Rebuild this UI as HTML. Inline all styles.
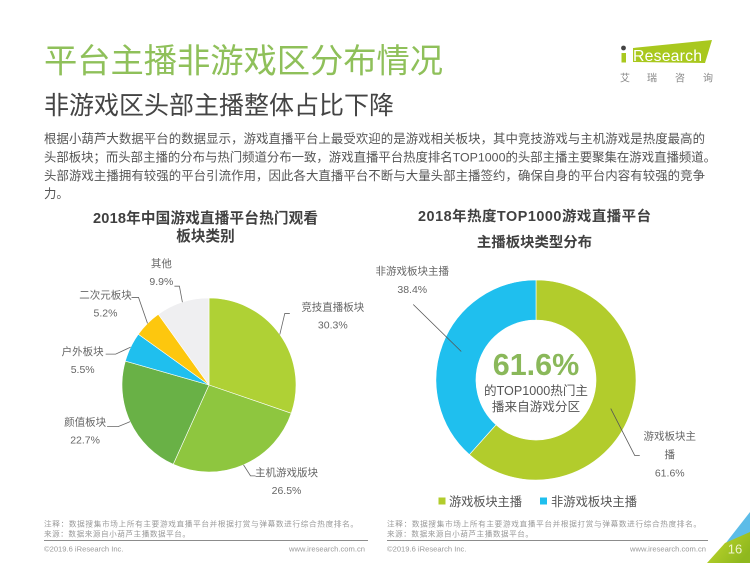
<!DOCTYPE html>
<html lang="zh">
<head>
<meta charset="utf-8">
<title>平台主播非游戏区分布情况</title>
<style>
html,body{margin:0;padding:0;background:#fff;width:750px;height:563px;overflow:hidden}
svg{display:block;font-family:"Liberation Sans","Noto Sans CJK SC",sans-serif}
.lbl{font-size:10.5px;fill:#666;text-anchor:middle;dominant-baseline:central}
.c{dominant-baseline:central}
.note{font-size:7.6px;fill:#999;dominant-baseline:central}
.foot{font-size:7.6px;fill:#999;dominant-baseline:central}
</style>
</head>
<body>
<svg id="page" width="750" height="563" viewBox="0 0 750 563" xmlns="http://www.w3.org/2000/svg">
  <defs>
    <linearGradient id="cornerGreen" x1="0" y1="0" x2="1" y2="0.6">
      <stop offset="0" stop-color="#c4d92e"/>
      <stop offset="1" stop-color="#8fb81e"/>
    </linearGradient>
  </defs>
  <text class="c" x="44" y="62" font-size="33.3" fill="#8fc05a" textLength="399">平台主播非游戏区分布情况</text>
  <text class="c" x="44" y="106" font-size="25" fill="#444" textLength="350">非游戏区头部主播整体占比下降</text>

  <g>
    <polygon points="633,48 712,40 705,63 633,62" fill="#a9c81e"/>
    <circle cx="623.5" cy="48" r="2.4" fill="#444"/>
    <rect x="621.5" y="53" width="4.5" height="9.5" fill="#a9c81e"/>
    <text class="c" x="633" y="56.5" font-size="15.8" fill="#fff" textLength="69">Research</text>
    <text class="c" x="620 647 675 703" y="79" font-size="10" fill="#888">艾瑞咨询</text>
  </g>

  <g font-size="12.4" fill="#555">
    <text class="c" x="44" y="139" textLength="661">根据小葫芦大数据平台的数据显示，游戏直播平台上最受欢迎的是游戏相关板块，其中竞技游戏与主机游戏是热度最高的</text>
    <text class="c" x="44" y="157.5" textLength="672">头部板块；而头部主播的分布与热门频道分布一致，游戏直播平台热度排名TOP1000的头部主播主要聚集在游戏直播频道。</text>
    <text class="c" x="44" y="176" textLength="661">头部游戏主播拥有较强的平台引流作用，因此各大直播平台不断与大量头部主播签约，确保自身的平台内容有较强的竞争</text>
    <text class="c" x="44" y="194">力。</text>
  </g>

  <g font-size="14.6" font-weight="700" fill="#404040" text-anchor="middle">
    <text class="c" x="205.5" y="219" textLength="225">2018年中国游戏直播平台热门观看</text>
    <text class="c" x="205.5" y="237">板块类别</text>
  </g>
  <g id="pie"></g>

  <g font-size="14.4" font-weight="700" fill="#404040" text-anchor="middle">
    <text class="c" x="534.5" y="217" textLength="233">2018年热度TOP1000游戏直播平台</text>
    <text class="c" x="534.5" y="243">主播板块类型分布</text>
  </g>
  <g id="donut"></g>
  <g id="donut-center" text-anchor="middle"></g>

  <g font-size="12.3" fill="#555">
    <rect x="438.5" y="497.5" width="7" height="7" fill="#b2cc2c"/>
    <text class="c" x="449" y="502" textLength="73">游戏板块主播</text>
    <rect x="540" y="497.5" width="7" height="7" fill="#1fbfee"/>
    <text class="c" x="551" y="502" textLength="86">非游戏板块主播</text>
  </g>

  <g>
    <text class="note" x="44" y="524" textLength="314">注释：数据搜集市场上所有主要游戏直播平台并根据打赏与弹幕数进行综合热度排名。</text>
    <text class="note" x="44" y="534" textLength="146">来源：数据来源自小葫芦主播数据平台。</text>
    <line x1="44" y1="540.5" x2="368" y2="540.5" stroke="#666" stroke-width="0.8"/>
    <text class="foot" x="44" y="549">©2019.6 iResearch Inc.</text>
    <text class="foot" x="365" y="549" text-anchor="end">www.iresearch.com.cn</text>
  </g>
  <g>
    <text class="note" x="387" y="524" textLength="314">注释：数据搜集市场上所有主要游戏直播平台并根据打赏与弹幕数进行综合热度排名。</text>
    <text class="note" x="387" y="534" textLength="146">来源：数据来源自小葫芦主播数据平台。</text>
    <line x1="387" y1="540.5" x2="708" y2="540.5" stroke="#666" stroke-width="0.8"/>
    <text class="foot" x="387" y="549">©2019.6 iResearch Inc.</text>
    <text class="foot" x="706" y="549" text-anchor="end">www.iresearch.com.cn</text>
  </g>

  <g>
    <polygon points="750,512 750,533 725,544" fill="#5cbce8"/>
    <polygon points="725,543 750,532 750,563 707,563" fill="url(#cornerGreen)"/>
    <text class="c" x="735" y="549" font-size="13" fill="#eef4cc" text-anchor="middle">16</text>
  </g>
</svg>
<script>
// Pie chart data
const pieCategories = ['竞技直播板块', '主机游戏版块', '颜值板块', '户外板块', '二次元板块', '其他'];
const pieValues = [30.3, 26.5, 22.7, 5.5, 5.2, 9.9];
// Donut chart data
const donutCategories = ['游戏板块主播', '非游戏板块主播'];
const donutValues = [61.6, 38.4];
const donutHeadline = ['的TOP1000热门主', '播来自游戏分区'];

const NS = 'http://www.w3.org/2000/svg';
const pieColors = ['#afd135', '#8ec63f', '#69b146', '#1fbfee', '#fdc70e', '#efeff1'];
const donutColors = ['#b2cc2c', '#1fbfee'];
const pieKeys = ['esports', 'console', 'beauty', 'outdoor', 'anime', 'other'];
const donutKeys = ['game', 'non-game'];
// Leader-line and label offsets relative to the slice anchor: elbow dx,dy, end dx, label dx,dy
const pieLeader = [
  {ex:5,ey:-21,tx:5,lx:53,ly:-27},
  {ex:7,ey:11,tx:5,lx:43,ly:8},
  {ex:-12,ey:5,tx:-11,lx:-45,ly:1},
  {ex:-15,ey:7,tx:-10,lx:-48,ly:5},
  {ex:-9,ey:-26,tx:-7,lx:-42,ly:-28},
  {ex:-3,ey:-16,tx:-5,lx:-21,ly:-38}
];
const donutLeader = [
  {ex:24,ey:47,tx:5,lx:59,ly:28},
  {ex:-48,ey:-47,tx:0,lx:-49,ly:-80}
];

function el(tag, attrs, parent, text) {
  const n = document.createElementNS(NS, tag);
  for (const k in attrs) n.setAttribute(k, attrs[k]);
  if (text !== undefined) n.textContent = text;
  parent.appendChild(n);
  return n;
}
function angleScale(values) {
  const total = values.reduce((a, b) => a + b, 0);
  return v => v / total * Math.PI * 2;
}
function polar(cx, cy, r, a) {
  return [cx + r * Math.sin(a), cy - r * Math.cos(a)];
}
function sector(cx, cy, r0, r1, a0, a1) {
  const large = a1 - a0 > Math.PI ? 1 : 0;
  const [x0, y0] = polar(cx, cy, r1, a0);
  const [x1, y1] = polar(cx, cy, r1, a1);
  if (r0 === 0) return `M${cx} ${cy}L${x0} ${y0}A${r1} ${r1} 0 ${large} 1 ${x1} ${y1}Z`;
  const [x2, y2] = polar(cx, cy, r0, a1);
  const [x3, y3] = polar(cx, cy, r0, a0);
  return `M${x0} ${y0}A${r1} ${r1} 0 ${large} 1 ${x1} ${y1}L${x2} ${y2}A${r0} ${r0} 0 ${large} 0 ${x3} ${y3}Z`;
}

// Pie
(function () {
  const g = document.getElementById('pie');
  const cx = 209, cy = 385, r = 87;
  const scale = angleScale(pieValues);
  let a = 0;
  pieValues.forEach((v, i) => {
    const a1 = a + scale(v);
    const mid = (a + a1) / 2;
    const s = el('path', {d: sector(cx, cy, 0, r, a, a1), fill: pieColors[i], stroke: '#fff', 'stroke-width': 0.6}, g);
    
    
    const [px, py] = polar(cx, cy, r, mid);
    const L = pieLeader[i];
    const ln = el('polyline', {points: `${px},${py} ${px + L.ex},${py + L.ey} ${px + L.ex + L.tx},${py + L.ey}`, fill: 'none', stroke: '#666', 'stroke-width': 0.8}, g);
    
    
    const t1 = el('text', {class: 'lbl', x: px + L.lx, y: py + L.ly}, g, pieCategories[i]);
    
    
    const t2 = el('text', {class: 'lbl', x: px + L.lx, y: py + L.ly + 18}, g, v.toFixed(1) + '%');
    
    
    a = a1;
  });
})();

// Donut
(function () {
  const g = document.getElementById('donut');
  const cx = 536, cy = 380, r0 = 60, r1 = 100;
  const scale = angleScale(donutValues);
  let a = 0;
  donutValues.forEach((v, i) => {
    const a1 = a + scale(v);
    const mid = (a + a1) / 2;
    const s = el('path', {d: sector(cx, cy, r0, r1, a, a1), fill: donutColors[i], stroke: '#fff', 'stroke-width': 0.6}, g);
    
    
    const [px, py] = polar(cx, cy, (r0 + r1) / 2, mid);
    const L = donutLeader[i];
    const ln = el('polyline', {points: `${px},${py} ${px + L.ex},${py + L.ey} ${px + L.ex + L.tx},${py + L.ey}`, fill: 'none', stroke: '#555', 'stroke-width': 0.8}, g);
    
    
    const name = donutCategories[i];
    const lines = name.length === 6 ? [name.slice(0, 5), name.slice(5)] : [name];
    lines.concat([v.toFixed(1) + '%']).forEach((txt, k) => {
      const t = el('text', {class: 'lbl', x: px + L.lx, y: py + L.ly + k * 18.5, 'font-size': 10}, g, txt);
      
      
    });
    a = a1;
  });
  const c = document.getElementById('donut-center');
  const big = el('text', {class: 'c', x: cx, y: 365, 'font-size': 30.5, 'font-weight': 700, fill: '#8ab85a'}, c, donutValues[0].toFixed(1) + '%');
  
  
  donutHeadline.forEach((txt, k) => {
    const t = el('text', {class: 'c', x: cx, y: 391 + k * 16, 'font-size': 12.6, fill: '#555'}, c, txt);
    
    
  });
})();
</script>
</body>
</html>
